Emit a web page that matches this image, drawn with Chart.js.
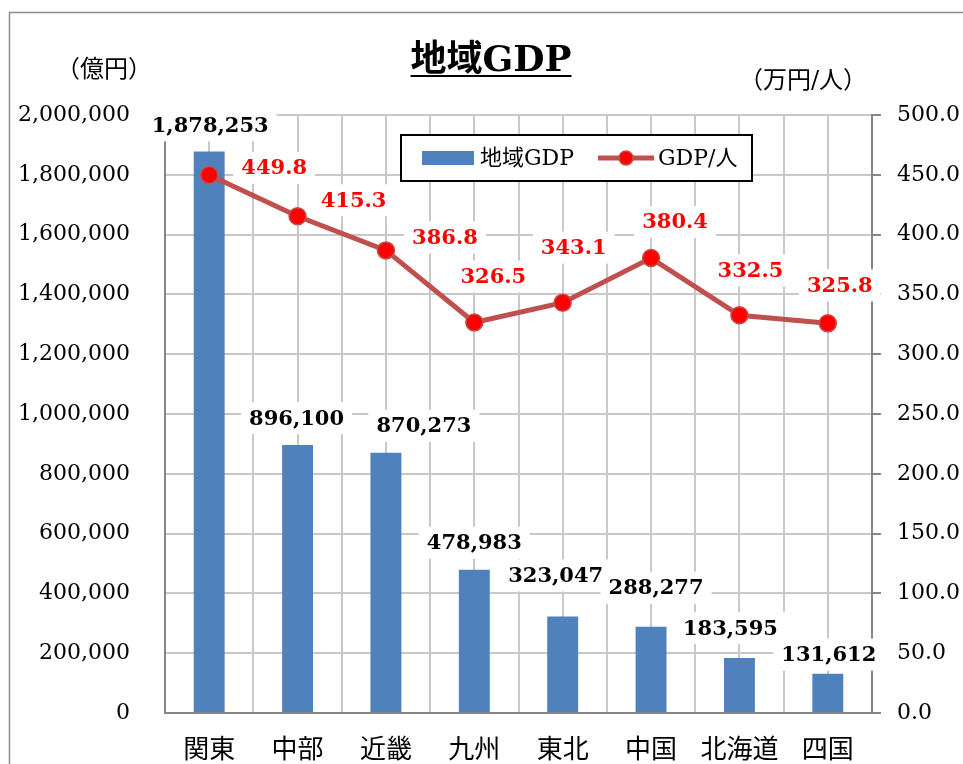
<!DOCTYPE html>
<html>
<head>
<meta charset="utf-8">
<title>地域GDP</title>
<script src="https://cdn.jsdelivr.net/npm/chart.js@4.4.0/dist/chart.umd.min.js"></script>
<style>
  body { margin: 0; background: #fff; }
  #wrap { width: 963px; height: 764px; }
</style>
</head>
<body>
<div id="wrap"><canvas id="gdpChart" width="963" height="764"></canvas></div>
<script>
// data
const regions = ['関東', '中部', '近畿', '九州', '東北', '中国', '北海道', '四国'];
const regionalGdp = [1878253, 896100, 870273, 478983, 323047, 288277, 183595, 131612];
const gdpPerPerson = [449.8, 415.3, 386.8, 326.5, 343.1, 380.4, 332.5, 325.8];

// label nudges (px) relative to the bar top / point, like the hand-moved labels in the original
const barLabelShift = [[1, -26], [-1, -27], [38, -27], [0, -27], [-7, -41], [5, -39], [-9, -30], [1, -19]];
const lineLabelShift = [[65, -7], [56, -16], [59, -13], [19, -46], [11, -55], [24, -36], [11, -45], [12, -38]];

const SERIF = "'DejaVu Serif', 'Noto Sans CJK JP', serif";
const GOTHIC = "'Noto Sans CJK JP', sans-serif";
const GRID = '#C8C8C8';
const AXIS = '#868686';

// title, unit captions, outer frame
const decorPlugin = {
  id: 'decor',
  afterDraw(chart) {
    const ctx = chart.ctx;
    ctx.save();
    ctx.strokeStyle = '#8C8C8C';
    ctx.lineWidth = 1.5;
    ctx.strokeRect(9.5, 12.5, 1000, 1000);

    ctx.fillStyle = '#000';
    ctx.font = 'bold 36px ' + SERIF;
    ctx.textAlign = 'center';
    ctx.textBaseline = 'alphabetic';
    const title = '地域GDP';
    ctx.fillText(title, 491, 71);
    const w = ctx.measureText(title).width;
    ctx.fillRect(491 - w / 2, 75, w, 2);

    ctx.font = '24px ' + SERIF;
    ctx.textBaseline = 'middle';
    ctx.fillText('（億円）', 104, 71);
    ctx.fillText('（万円/人）', 803, 82);
    ctx.restore();
  }
};

// legend box + data labels with white backing
const labelPlugin = {
  id: 'labels',
  afterDatasetsDraw(chart) {
    const ctx = chart.ctx;
    const ds = chart.data.datasets;
    const barSet = ds[0];
    const lineSet = ds[1];
    ctx.save();

    // legend
    ctx.fillStyle = '#fff';
    ctx.fillRect(401, 135, 351, 46);
    ctx.strokeStyle = '#000';
    ctx.lineWidth = 2;
    ctx.strokeRect(401, 135, 351, 46);
    ctx.fillStyle = barSet.backgroundColor;
    ctx.fillRect(422, 151, 52, 14);
    ctx.fillStyle = '#000';
    ctx.font = '22px ' + SERIF;
    ctx.textAlign = 'left';
    ctx.textBaseline = 'middle';
    ctx.fillText(barSet.label, 480, 159);
    ctx.strokeStyle = lineSet.borderColor;
    ctx.lineWidth = 5;
    ctx.beginPath();
    ctx.moveTo(598, 158);
    ctx.lineTo(654, 158);
    ctx.stroke();
    ctx.beginPath();
    ctx.arc(626, 158, 7, 0, Math.PI * 2);
    ctx.fillStyle = lineSet.pointBackgroundColor;
    ctx.fill();
    ctx.lineWidth = 1.5;
    ctx.stroke();
    ctx.fillStyle = '#000';
    ctx.fillText(lineSet.label, 658, 159);

    // value labels
    ctx.font = 'bold 21px ' + SERIF;
    ctx.textAlign = 'center';
    const drawLabel = (text, x, y, color) => {
      const tw = ctx.measureText(text).width;
      ctx.fillStyle = '#fff';
      ctx.fillRect(x - tw / 2 - 8, y - 16, tw + 16, 32);
      ctx.fillStyle = color;
      ctx.fillText(text, x, y + 1);
    };
    const bars = chart.getDatasetMeta(0).data;
    bars.forEach((bar, i) => {
      const [dx, dy] = barLabelShift[i];
      drawLabel(regionalGdp[i].toLocaleString('en-US'), bar.x + dx, bar.y + dy, '#000');
    });
    const pts = chart.getDatasetMeta(1).data;
    pts.forEach((pt, i) => {
      const [dx, dy] = lineLabelShift[i];
      drawLabel(gdpPerPerson[i].toFixed(1), pt.x + dx, pt.y + dy, '#FF0000');
    });
    ctx.restore();
  }
};

const ctx = document.getElementById('gdpChart').getContext('2d');
new Chart(ctx, {
  type: 'bar',
  data: {
    labels: regions,
    datasets: [
      {
        label: '地域GDP',
        data: regionalGdp,
        yAxisID: 'y',
        xAxisID: 'x',
        backgroundColor: '#4F81BD',
        barPercentage: 0.35,
        categoryPercentage: 1,
        order: 2
      },
      {
        type: 'line',
        label: 'GDP/人',
        data: gdpPerPerson,
        yAxisID: 'y1',
        xAxisID: 'x',
        borderColor: '#C0504D',
        borderWidth: 5,
        pointRadius: 8.5,
        pointBackgroundColor: '#FF0000',
        pointBorderColor: '#C0504D',
        pointBorderWidth: 1.5,
        tension: 0,
        order: 1
      }
    ]
  },
  options: {
    responsive: false,
    animation: false,
    layout: { padding: { top: 115, left: 0, right: 0, bottom: 0 } },
    plugins: {
      legend: { display: false },
      tooltip: { enabled: false },
      title: { display: false }
    },
    scales: {
      x: {
        type: 'category',
        position: 'bottom',
        offset: true,
        grid: { offset: true, color: GRID, lineWidth: 2, drawTicks: false },
        border: { color: AXIS, width: 2 },
        ticks: { color: '#000', font: { family: GOTHIC, size: 26 }, padding: 20, maxRotation: 0 },
        afterFit(s) { s.height = 51; }
      },
      x2: {
        type: 'category',
        labels: regions,
        position: 'bottom',
        offset: true,
        grid: { offset: false, color: GRID, lineWidth: 2, drawTicks: false },
        border: { display: false },
        ticks: { display: false },
        afterFit(s) { s.height = 0; }
      },
      y: {
        position: 'left',
        min: 0,
        max: 2000000,
        ticks: {
          stepSize: 200000,
          color: '#000',
          font: { family: SERIF, size: 22 },
          padding: 35,
          callback: v => v.toLocaleString('en-US')
        },
        grid: { color: GRID, lineWidth: 2, drawTicks: false },
        border: { color: AXIS, width: 2 },
        afterFit(s) { s.width = 165; }
      },
      y1: {
        position: 'right',
        min: 0,
        max: 500,
        ticks: {
          stepSize: 50,
          color: '#000',
          font: { family: SERIF, size: 22 },
          padding: 16,
          callback: v => v.toFixed(1)
        },
        grid: { drawOnChartArea: false, drawTicks: true, tickLength: 9, color: AXIS, lineWidth: 2 },
        border: { color: AXIS, width: 2 },
        afterFit(s) { s.width = 91; }
      }
    }
  },
  plugins: [decorPlugin, labelPlugin]
});
</script>
</body>
</html>
